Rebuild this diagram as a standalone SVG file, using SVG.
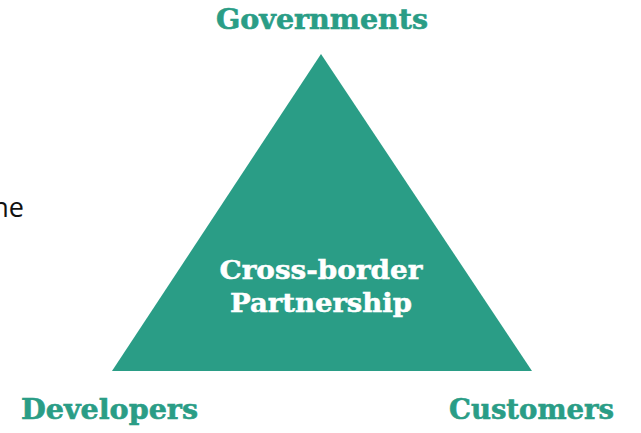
<svg xmlns="http://www.w3.org/2000/svg" width="641" height="433" viewBox="0 0 641 433">
<style>
.lbl{font-family:"DejaVu Serif","Liberation Serif",serif;font-weight:bold;fill:#2a9d86;stroke:#2a9d86;stroke-width:0.6}
.in{font-family:"DejaVu Serif","Liberation Serif",serif;font-weight:bold;fill:#ffffff;stroke:#ffffff;stroke-width:0.5}
</style>
<rect width="641" height="433" fill="#ffffff"/>
<text x="24" y="217" text-anchor="end" font-family="'Open Sans','Noto Sans',sans-serif" font-size="27" fill="#111">ne</text>
<g id="connectors"></g>
<g id="triangle">
<polygon points="321,54 112,371 532,371" fill="#2a9d86"/>
<text class="in" x="321" y="279" font-size="26" text-anchor="middle" textLength="203" lengthAdjust="spacingAndGlyphs">Cross-border</text>
<text class="in" x="321" y="312" font-size="26" text-anchor="middle" textLength="182" lengthAdjust="spacingAndGlyphs">Partnership</text>
</g>
<g id="governments"><text class="lbl" x="216" y="29" font-size="28" textLength="212" lengthAdjust="spacingAndGlyphs">Governments</text></g>
<g id="developers"><text class="lbl" x="21" y="419" font-size="28" textLength="177" lengthAdjust="spacingAndGlyphs">Developers</text></g>
<g id="customers"><text class="lbl" x="449" y="419" font-size="28" textLength="165" lengthAdjust="spacingAndGlyphs">Customers</text></g>
</svg>
